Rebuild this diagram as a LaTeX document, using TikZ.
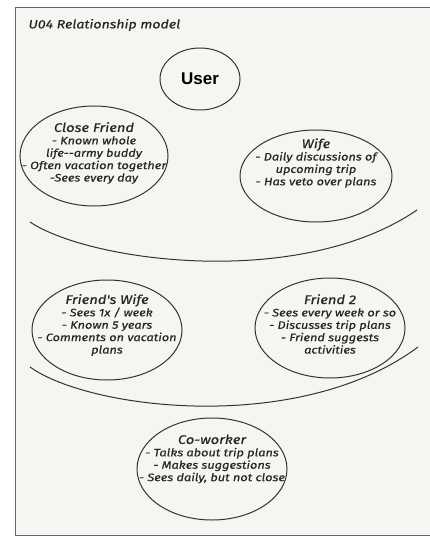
\documentclass[tikz,border=0pt]{standalone}
\usepackage{fontspec}
\setmainfont{Fira Sans}
\newfontfamily\handfont[ItalicFeatures={FakeBold=0.5,FakeStretch=1.18}]{Fira Sans}
\newfontfamily\userfont{Liberation Sans}
\begin{document}
\begin{tikzpicture}[x=1pt,y=-1pt,
  bubtext/.style={align=center,font=\handfont\itshape\fontsize{10.8}{12.4}\selectfont,text=black!85},
  ring/.style={draw=black!80,line width=1pt}]
\useasboundingbox (0,0) rectangle (430,537);
\fill[white] (0,0) rectangle (430,537);
\draw[fill={rgb,255:red,245;green,245;blue,241},draw=black!60,line width=0.8pt] (15,7) rectangle (440,535);
\node[anchor=west,font=\handfont\itshape\fontsize{12}{13}\selectfont,text=black!85] (title) at (25,25) {U04 Relationship model};
% user
\draw[ring] (200,79) ellipse [x radius=40,y radius=31];
\node[font=\userfont\bfseries\fontsize{17}{20}\selectfont] (user) at (200,79) {User};
% close friend
\draw[ring] (94,156) ellipse [x radius=74,y radius=50];
\node[bubtext] (cf) at (94,153) {{\fontsize{12.5}{14}\selectfont Close Friend}\\- Known whole\\life--army buddy\\- Often vacation together\\-Sees every day};
% wife
\draw[ring] (316,176) ellipse [x radius=76,y radius=46];
\node[bubtext] (wife) at (316,163) {{\fontsize{12.5}{14}\selectfont Wife}\\- Daily discussions of\\upcoming trip\\- Has veto over plans};
% ring arc 1
\draw[ring] (30,222) .. controls (90,262) and (300,290) .. (417,210);
% friend's wife
\draw[ring] (107,330) ellipse [x radius=75,y radius=50];
\node[bubtext] (fw) at (107,325) {{\fontsize{12.5}{14}\selectfont Friend's Wife}\\- Sees 1x / week\\- Known 5 years\\- Comments on vacation\\plans};
% friend 2
\draw[ring] (330,328) ellipse [x radius=75,y radius=50];
\node[bubtext] (f2) at (330,324) {{\fontsize{12.5}{14}\selectfont Friend 2}\\- Sees every week or so\\- Discusses trip plans\\- Friend suggests\\activities};
% ring arc 2
\draw[ring] (30,367) .. controls (90,410) and (300,435) .. (418,347);
% co-worker
\draw[ring] (212,469) ellipse [x radius=75,y radius=51];
\node[bubtext] (cw) at (212,459) {{\fontsize{12.5}{14}\selectfont Co-worker}\\- Talks about trip plans\\- Makes suggestions\\- Sees daily, but not close};
\end{tikzpicture}
\end{document}
